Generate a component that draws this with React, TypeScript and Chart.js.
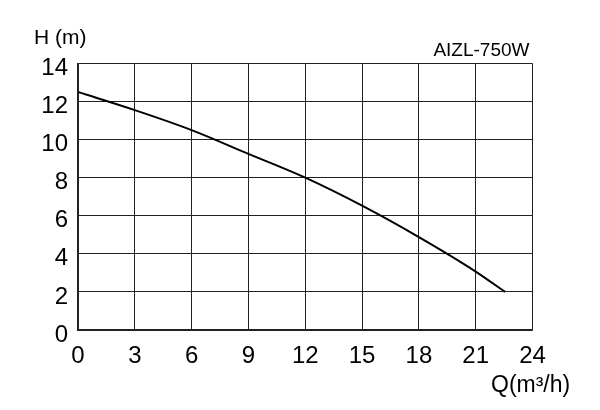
import React, { useEffect, useRef } from "react";
import { Chart, registerables } from "chart.js";

Chart.register(...registerables);

const flowQ = [0, 3, 6, 9, 12, 15, 18, 21, 22.55];
const headH = [12.5, 11.55, 10.5, 9.25, 8.0, 6.53, 4.88, 3.07, 2.0];
const xTicks = [0, 3, 6, 9, 12, 15, 18, 21, 24];
const yTicks = [0, 2, 4, 6, 8, 10, 12, 14];
const yTitle = "H (m)";
const xTitle = "Q(m³/h)";
const modelName = "AIZL-750W";

const FONT = "'Liberation Sans', Arial, sans-serif";

export default function App() {
  const ref = useRef<HTMLCanvasElement | null>(null);
  useEffect(() => {
    if (!ref.current) return;
    const textPlugin = {
      id: "texts",
      afterDraw(chart: any) {
        const ctx = chart.ctx;
        const area = chart.chartArea;
        ctx.save();
        ctx.fillStyle = "#000";
        ctx.textBaseline = "alphabetic";
        ctx.font = `21px ${FONT}`;
        ctx.textAlign = "left";
        ctx.fillText(yTitle, 34, 43.5);
        ctx.font = `19px ${FONT}`;
        ctx.textAlign = "right";
        ctx.fillText(modelName, area.right - 3, 56);
        ctx.font = `23px ${FONT}`;
        ctx.textAlign = "left";
        ctx.fillText(xTitle, 491, 391.5);
        ctx.restore();
      },
    };
    const chart = new Chart(ref.current, {
      type: "line",
      data: {
        datasets: [
          {
            data: flowQ.map((q, i) => ({ x: q, y: headH[i] })),
            borderColor: "#000",
            borderWidth: 2,
            pointRadius: 0,
            cubicInterpolationMode: "monotone",
            fill: false,
          },
        ],
      },
      options: {
        animation: false,
        responsive: false,
        events: [],
        layout: { padding: { left: 0, top: 63.5, right: 67.5, bottom: 0 } },
        plugins: { legend: { display: false }, tooltip: { enabled: false } },
        scales: {
          x: {
            type: "linear",
            min: 0,
            max: 24,
            afterBuildTicks: (s: any) => {
              s.ticks = xTicks.map((v) => ({ value: v }));
            },
            afterFit: (s: any) => {
              s.height = 80;
            },
            ticks: {
              color: "#000",
              font: { family: FONT, size: 24 },
              padding: 12,
              maxRotation: 0,
              autoSkip: false,
            },
            grid: { color: "#222", lineWidth: 1, drawTicks: false },
            border: { color: "#222", width: 1.5 },
          },
          y: {
            type: "linear",
            min: 0,
            max: 14,
            afterBuildTicks: (s: any) => {
              s.ticks = yTicks.map((v) => ({ value: v }));
            },
            afterFit: (s: any) => {
              s.width = 78;
            },
            ticks: {
              color: "#000",
              font: { family: FONT, size: 24 },
              padding: 10,
              labelOffset: 5,
              autoSkip: false,
            },
            grid: { color: "#222", lineWidth: 1, drawTicks: false },
            border: { color: "#222", width: 1.5 },
          },
        },
      } as any,
      plugins: [textPlugin],
    });
    return () => chart.destroy();
  }, []);
  return (
    <div style={{ position: "fixed", left: 0, top: 0, width: 600, height: 410, background: "#fff" }}>
      <canvas ref={ref} width={600} height={410} style={{ width: 600, height: 410, display: "block" }} />
    </div>
  );
}
